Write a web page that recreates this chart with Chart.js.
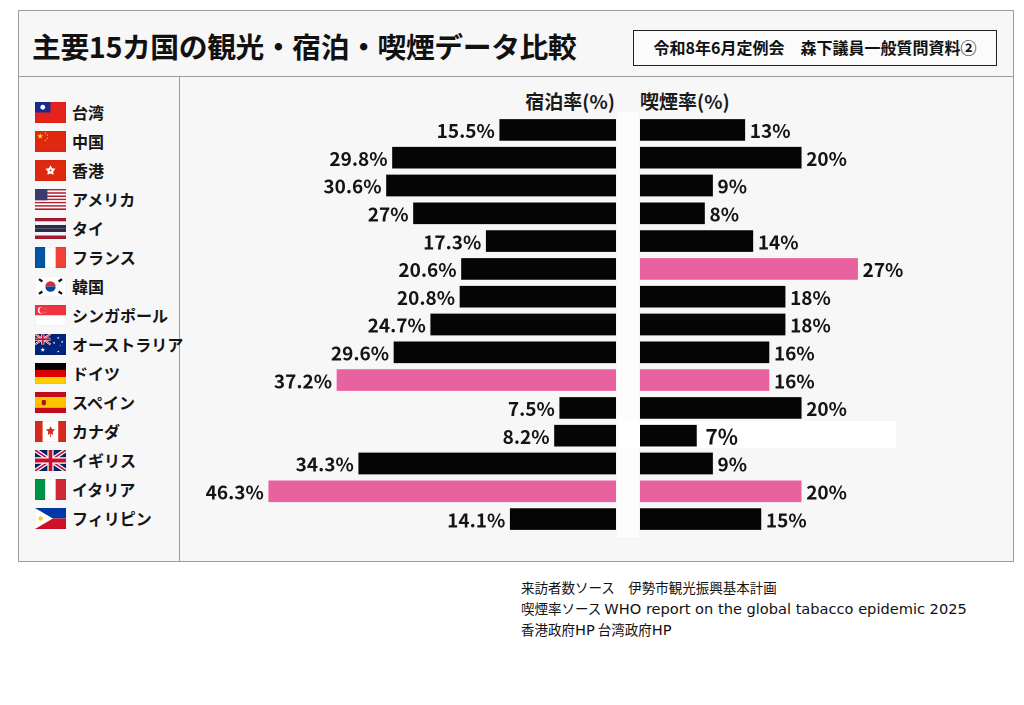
<!DOCTYPE html>
<html lang="ja">
<head>
<meta charset="utf-8">
<script src="https://cdn.jsdelivr.net/npm/chart.js@4.4.1/dist/chart.umd.min.js"></script>
<style>
  html, body { margin: 0; padding: 0; background: #ffffff; }
  body { width: 1024px; height: 705px; position: relative; overflow: hidden;
         font-family: 'Noto Sans CJK JP', 'Noto Sans', sans-serif; color: #111; }
  .abs { position: absolute; }
  #frame { left: 18px; top: 10px; width: 996px; height: 552px; border: 1.5px solid #9c9c9c; background: #f7f7f7; box-sizing: border-box; }
  #hline { left: 18px; top: 76px; width: 996px; height: 0; border-top: 1.5px solid #9c9c9c; }
  #vline { left: 179px; top: 76px; width: 0; height: 486px; border-left: 1.5px solid #9c9c9c; }
  #title { left: 32px; top: 28px; font-size: 28.8px; line-height: 36px; font-weight: 700; letter-spacing: -0.4px; color: #111; white-space: nowrap; }
  #badge { left: 633px; top: 30px; width: 364px; height: 36px; border: 1.8px solid #222; box-sizing: border-box;
           font-size: 16px; font-weight: 700; line-height: 32px; text-align: center; white-space: nowrap; background: #fbfbfb; }
  .hdr { top: 88px; font-size: 19px; font-weight: 700; line-height: 26px; white-space: nowrap; color: #1a1a1a; }
  #hdrL { right: calc(1024px - 615px); }
  #hdrR { left: 640px; }
  #names { left: 35px; top: 97.5px; }
  .row { height: 29px; display: flex; align-items: center; white-space: nowrap; }
  .row svg { width: 31px; height: 21px; display: block; flex: none; }
  .row span { margin-left: 6px; font-size: 16px; font-weight: 700; color: #151515; }
  #notes { left: 521px; top: 577px; font-family: 'Noto Sans CJK JP', sans-serif; font-size: 13.5px; line-height: 21px; color: #111; white-space: nowrap; }
  #notes .lat { font-family: 'DejaVu Sans', sans-serif; font-size: 14.6px; }
  #patch { left: 620px; top: 421px; width: 276px; height: 27px; background: #ffffff; }
  #gap { left: 617px; top: 112px; width: 22px; height: 425px; background: #fdfdfd; }
  canvas { position: absolute; }
</style>
</head>
<body>
<script>
// ---- data ----
const countries = ['台湾','中国','香港','アメリカ','タイ','フランス','韓国','シンガポール','オーストラリア','ドイツ','スペイン','カナダ','イギリス','イタリア','フィリピン'];
const stayRates  = [15.5, 29.8, 30.6, 27, 17.3, 20.6, 20.8, 24.7, 29.6, 37.2, 7.5, 8.2, 34.3, 46.3, 14.1];
const smokeRates = [13, 20, 9, 8, 14, 27, 18, 18, 16, 16, 20, 7, 9, 20, 15];
const stayHighlight  = ['ドイツ', 'イタリア'];
const smokeHighlight = ['フランス', 'ドイツ', 'イタリア'];
const smokeEmphasis  = ['カナダ'];
const titleText = '主要15カ国の観光・宿泊・喫煙データ比較';
const badgeText = '令和8年6月定例会　森下議員一般質問資料②';
const stayHeader  = '宿泊率(%)';
const smokeHeader = '喫煙率(%)';
const notes = ['来訪者数ソース　伊勢市観光振興基本計画', '喫煙率ソース WHO report on the global tabacco epidemic 2025', '香港政府HP 台湾政府HP'];
</script>

<div id="frame" class="abs"></div>
<div id="hline" class="abs"></div>
<div id="vline" class="abs"></div>
<div id="title" class="abs"></div>
<div id="badge" class="abs"></div>
<div id="hdrL" class="abs hdr"></div>
<div id="hdrR" class="abs hdr"></div>
<div id="names" class="abs"></div>
<div id="gap" class="abs"></div>
<div id="patch" class="abs"></div>
<div id="notes" class="abs"></div>
<canvas id="cL" width="435" height="417" style="left:181px;top:116px;width:435px;height:417px;"></canvas>
<canvas id="cR" width="374" height="417" style="left:640px;top:116px;width:374px;height:417px;"></canvas>

<script>
const PINK = '#e8629f';
const BLACK = '#050505';
const FONT = "'Noto Sans CJK JP', 'Noto Sans', sans-serif";

document.getElementById('title').textContent = titleText;
document.getElementById('badge').textContent = badgeText;
document.getElementById('hdrL').textContent = stayHeader;
document.getElementById('hdrR').textContent = smokeHeader;
document.getElementById('notes').innerHTML = notes.map(t =>
  '<div>' + t.replace(/([A-Za-z0-9][A-Za-z0-9 ]*[A-Za-z0-9]|[A-Za-z0-9])/g, '<span class="lat">$1</span>') + '</div>'
).join('');

// ---- flags (decorative) ----
function star(cx, cy, r, fill, ratio) {
  ratio = ratio || 0.4;
  let pts = [];
  for (let i = 0; i < 10; i++) {
    const a = -Math.PI / 2 + i * Math.PI / 5;
    const rr = i % 2 === 0 ? r : r * ratio;
    pts.push((cx + rr * Math.cos(a)).toFixed(2) + ',' + (cy + rr * Math.sin(a)).toFixed(2));
  }
  return '<polygon points="' + pts.join(' ') + '" fill="' + fill + '"/>';
}
function rect(x, y, w, h, f) { return '<rect x="' + x + '" y="' + y + '" width="' + w + '" height="' + h + '" fill="' + f + '"/>'; }
function hstripes(cols) { const h = 20 / cols.length; return cols.map((c, i) => rect(0, i * h, 30, h + 0.05, c)).join(''); }
function vstripes(cols) { const w = 30 / cols.length; return cols.map((c, i) => rect(i * w, 0, w + 0.05, 20, c)).join(''); }
function unionJack(w, h) {
  return rect(0, 0, w, h, '#012169') +
    '<path d="M0,0 L' + w + ',' + h + ' M' + w + ',0 L0,' + h + '" stroke="#fff" stroke-width="' + (h * 0.2) + '"/>' +
    '<path d="M0,0 L' + w + ',' + h + ' M' + w + ',0 L0,' + h + '" stroke="#c8102e" stroke-width="' + (h * 0.08) + '"/>' +
    '<path d="M' + (w / 2) + ',0 V' + h + ' M0,' + (h / 2) + ' H' + w + '" stroke="#fff" stroke-width="' + (h * 0.3) + '"/>' +
    '<path d="M' + (w / 2) + ',0 V' + h + ' M0,' + (h / 2) + ' H' + w + '" stroke="#c8102e" stroke-width="' + (h * 0.18) + '"/>';
}
const flags = {
  '台湾': rect(0,0,30,20,'#e3231c') + rect(0,0,15,10,'#1a2b8e') + '<circle cx="7.5" cy="5" r="2.3" fill="#fff"/>',
  '中国': rect(0,0,30,20,'#de2910') + star(5,5,3,'#ffde00') + star(10,2,1,'#ffde00') + star(12,4,1,'#ffde00') + star(12,7,1,'#ffde00') + star(10,9,1,'#ffde00'),
  '香港': rect(0,0,30,20,'#de2910') + star(15,10,5,'#fff',0.55) + '<circle cx="15" cy="10" r="0.9" fill="#de2910"/>',
  'アメリカ': (function(){ let s=''; for(let i=0;i<13;i++){ s+=rect(0,i*20/13,30,20/13+0.05,i%2===0?'#b22234':'#fff'); } return s + rect(0,0,12,10.77,'#3c3b6e'); })(),
  'タイ': hstripes(['#a51931','#f4f5f8','#2d2a4a','#2d2a4a','#f4f5f8','#a51931']),
  'フランス': vstripes(['#0055a4','#ffffff','#ef4135']),
  '韓国': rect(0,0,30,20,'#ffffff') +
          '<path d="M10,10 A5,5 0 0 1 20,10 Z" fill="#cd2e3a"/><path d="M10,10 A5,5 0 0 0 20,10 Z" fill="#0047a0"/>' +
          '<g fill="#111"><rect x="3.5" y="3" width="4" height="2.2" transform="rotate(34 5.5 4.1)"/><rect x="22.5" y="3" width="4" height="2.2" transform="rotate(-34 24.5 4.1)"/>' +
          '<rect x="3.5" y="14.8" width="4" height="2.2" transform="rotate(-34 5.5 15.9)"/><rect x="22.5" y="14.8" width="4" height="2.2" transform="rotate(34 24.5 15.9)"/></g>',
  'シンガポール': rect(0,0,30,10,'#ef3340') + rect(0,10,30,10,'#ffffff') + '<circle cx="6" cy="5" r="3.2" fill="#fff"/><circle cx="7.3" cy="5" r="3" fill="#ef3340"/>' +
          star(9,3.2,0.6,'#fff') + star(11,4.6,0.6,'#fff') + star(10.3,6.8,0.6,'#fff') + star(7.8,6.8,0.6,'#fff'),
  'オーストラリア': rect(0,0,30,20,'#00247d') + unionJack(15,10) + star(7.5,15,2.3,'#fff') + star(22.5,16.5,1.3,'#fff') + star(18.5,8.5,1.3,'#fff') + star(22.5,3.8,1.3,'#fff') + star(26.2,7.5,1.3,'#fff') + star(24.3,10.6,0.7,'#fff'),
  'ドイツ': hstripes(['#000000','#dd0000','#ffce00']),
  'スペイン': rect(0,0,30,5,'#c60b1e') + rect(0,5,30,10,'#ffc400') + rect(0,15,30,5,'#c60b1e') + '<rect x="6.5" y="7.5" width="4" height="5" rx="1" fill="#ad1519"/>',
  'カナダ': rect(0,0,7.5,20,'#d52b1e') + rect(7.5,0,15,20,'#ffffff') + rect(22.5,0,7.5,20,'#d52b1e') + star(15,9.5,4.6,'#d52b1e',0.5) + rect(14.6,12,0.8,3.5,'#d52b1e'),
  'イギリス': unionJack(30,20),
  'イタリア': vstripes(['#009246','#ffffff','#ce2b37']),
  'フィリピン': rect(0,0,30,10,'#0038a8') + rect(0,10,30,10,'#ce1126') + '<polygon points="0,0 17.3,10 0,20" fill="#fff"/><circle cx="5.5" cy="10" r="2.1" fill="#fcd116"/>'
};
document.getElementById('names').innerHTML = countries.map(c =>
  '<div class="row"><svg viewBox="0 0 30 20" preserveAspectRatio="none">' + (flags[c] || '') +
  '<rect x="0.15" y="0.15" width="29.7" height="19.7" fill="none" stroke="rgba(0,0,0,0.15)" stroke-width="0.3"/></svg><span>' + c + '</span></div>'
).join('');

// ---- value labels plugin ----
function valueLabels(side, emphasis) {
  return {
    id: 'valueLabels_' + side,
    afterDatasetsDraw(chart) {
      const ctx = chart.ctx;
      const meta = chart.getDatasetMeta(0);
      const values = chart.data.datasets[0].data;
      ctx.save();
      ctx.fillStyle = '#141414';
      ctx.textBaseline = 'middle';
      meta.data.forEach((bar, i) => {
        const big = emphasis && emphasis.includes(chart.data.labels[i]);
        ctx.font = '700 ' + (big ? 21 : 19) + 'px ' + FONT;
        const txt = values[i] + '%';
        if (side === 'left') {
          ctx.textAlign = 'right';
          ctx.fillText(txt, bar.x - 5, bar.y + 1);
        } else {
          ctx.textAlign = 'left';
          ctx.fillText(txt, bar.x + (big ? 9 : 5), bar.y + 1);
        }
      });
      ctx.restore();
    }
  };
}

function makeChart(id, values, highlight, side, max, emphasis) {
  return new Chart(document.getElementById(id), {
    type: 'bar',
    data: {
      labels: countries,
      datasets: [{
        data: values,
        backgroundColor: countries.map(c => highlight.includes(c) ? PINK : BLACK),
        borderWidth: 0,
        barThickness: 21
      }]
    },
    options: {
      indexAxis: 'y',
      responsive: false,
      maintainAspectRatio: false,
      animation: false,
      devicePixelRatio: 2,
      layout: { padding: 0 },
      plugins: { legend: { display: false }, tooltip: { enabled: false }, title: { display: false } },
      scales: {
        x: { display: false, min: 0, max: max, reverse: side === 'left' },
        y: { display: false }
      }
    },
    plugins: [valueLabels(side, emphasis)]
  });
}

makeChart('cL', stayRates, stayHighlight, 'left', 58, null);
makeChart('cR', smokeRates, smokeHighlight, 'right', 46.4, smokeEmphasis);
</script>
</body>
</html>
